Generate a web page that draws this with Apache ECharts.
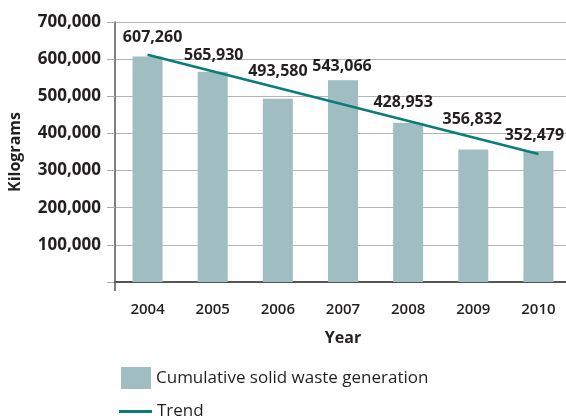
<!DOCTYPE html>
<html>
<head>
<meta charset="utf-8">
<script src="https://cdn.jsdelivr.net/npm/echarts@6/dist/echarts.min.js"></script>
<style>
html,body{margin:0;padding:0;background:#fff;}
#main{width:566px;height:420px;}
</style>
</head>
<body>
<div id="main"></div>
<script>
var years = ['2004', '2005', '2006', '2007', '2008', '2009', '2010'];
var wasteKg = [607260, 565930, 493580, 543066, 428953, 356832, 352479];
var trendKg = [611900, null, null, null, null, null, 344700];
var yTicks = [0, 100000, 200000, 300000, 400000, 500000, 600000, 700000];

// label nudges (pixels) so that labels clear the trend line, as in the picture
var labelShift = [[5, -6], [1, -3], [0, -14], [-1, -1], [-5, -7], [-1, -17], [-4, -3]];

var fontFam = '"Open Sans", "Noto Sans", sans-serif';
var ink = '#231f20';
var barColor = '#a0bec1';
var lineColor = '#0a7d78';
function fmt(v) { return String(v).replace(/\B(?=(\d{3})+(?!\d))/g, ','); }

var chart = echarts.init(document.getElementById('main'), null, {renderer: 'canvas'});
chart.setOption({
  animation: false,
  textStyle: {fontFamily: fontFam},
  grid: {left: 115, right: -5, top: 22, bottom: 138, containLabel: false, outerBoundsMode: 'none'},
  legend: [
    {
      orient: 'vertical',
      left: 121,
      top: 367,
      padding: 0,
      itemWidth: 30,
      itemHeight: 22,
      itemGap: 6,
      textStyle: {fontFamily: fontFam, fontSize: 17, color: ink},
      data: [{name: 'Cumulative solid waste generation', icon: 'rect'}]
    },
    {
      orient: 'vertical',
      left: 119,
      top: 403,
      padding: 0,
      itemWidth: 33,
      itemHeight: 3,
      itemGap: 6,
      textStyle: {fontFamily: fontFam, fontSize: 17, color: ink},
      data: [{name: 'Trend', icon: 'rect'}]
    }
  ],
  xAxis: {
    type: 'category',
    data: years,
    boundaryGap: true,
    name: 'Year',
    nameLocation: 'middle',
    nameGap: 48,
    nameTextStyle: {fontFamily: fontFam, fontSize: 16, fontWeight: 'bold', color: ink},
    axisLine: {show: true, lineStyle: {color: '#555', width: 2}},
    axisTick: {show: true, length: 9, interval: function (i) { return i === 0; }, lineStyle: {color: '#555', width: 1.5}},
    axisLabel: {fontFamily: fontFam, fontSize: 15, fontWeight: 600, color: ink, margin: 20},
    splitLine: {show: false}
  },
  yAxis: {
    type: 'value',
    min: yTicks[0],
    max: yTicks[yTicks.length - 1],
    interval: yTicks[1] - yTicks[0],
    name: 'Kilograms',
    nameLocation: 'middle',
    nameGap: 92,
    nameRotate: 90,
    nameTextStyle: {fontFamily: fontFam, fontSize: 16, fontWeight: 'bold', color: ink},
    axisLine: {show: true, lineStyle: {color: '#555', width: 1.5}},
    axisTick: {show: true, length: 8, lineStyle: {color: '#aaa', width: 1}},
    axisLabel: {
      fontFamily: fontFam, fontSize: 17, fontWeight: 'bold', color: ink, margin: 14,
      formatter: function (v) { return v === 0 ? '' : fmt(v); }
    },
    splitLine: {show: true, lineStyle: {color: '#b5b5b5', width: 1}}
  },
  series: [
    {
      name: 'Cumulative solid waste generation',
      type: 'bar',
      barWidth: 30,
      itemStyle: {color: barColor},
      data: wasteKg.map(function (v, i) {
        return {
          value: v,
          label: {
            show: true,
            position: 'top',
            offset: labelShift[i],
            formatter: function (p) { return fmt(p.value); },
            fontFamily: fontFam, fontSize: 16, fontWeight: 'bold', color: ink
          }
        };
      })
    },
    {
      name: 'Trend',
      type: 'line',
      data: trendKg,
      connectNulls: true,
      symbol: 'none',
      showSymbol: false,
      lineStyle: {color: lineColor, width: 2.5},
      itemStyle: {color: lineColor},
      z: 5
    }
  ]
});
</script>
</body>
</html>
